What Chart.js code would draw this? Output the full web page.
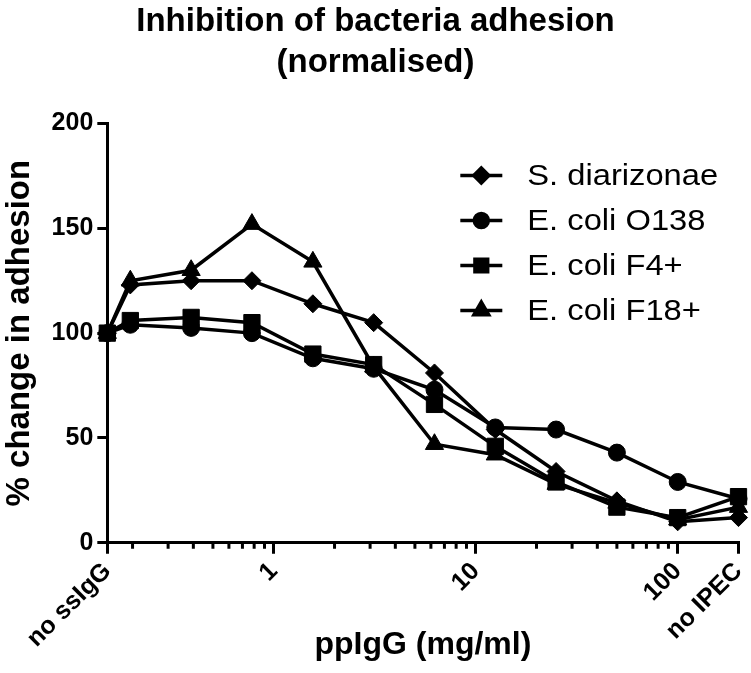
<!DOCTYPE html>
<html>
<head>
<meta charset="utf-8">
<title>Inhibition of bacteria adhesion</title>
<script src="https://cdn.jsdelivr.net/npm/chart.js@4.4.1/dist/chart.umd.min.js"></script>
<style>
  html, body { margin: 0; padding: 0; background: #fff; }
  #wrap { width: 751px; height: 673px; }
</style>
</head>
<body>
<div id="wrap"><canvas id="adhesion-chart"></canvas></div>
<script>
// ppIgG concentrations (mg/ml) - first point is "no ssIgG", last is "no IPEC"
const concentrations = [0.15, 0.195, 0.39, 0.78, 1.5625, 3.125, 6.25, 12.5, 25, 50, 100, 200];

const seriesNames = ['S. diarizonae', 'E. coli O138', 'E. coli F4+', 'E. coli F18+'];
const sDiarizonae = [100, 123, 125, 125, 114, 105, 81, 54, 34, 20, 10, 12];
const ecoliO138   = [100, 104, 102.5, 100, 88, 83, 73, 55, 54, 43, 29, 21];
const ecoliF4     = [100, 106, 107.5, 105, 90, 85, 66, 46, 29, 17, 12, 22];
const ecoliF18    = [100, 125, 130, 152, 134, 84, 47, 42, 28, 19, 11, 17];

const xTickValues = [0.15, 0.2, 0.3, 0.4, 0.5, 0.6, 0.7, 0.8, 0.9,
                     1, 2, 3, 4, 5, 6, 7, 8, 9,
                     10, 20, 30, 40, 50, 60, 70, 80, 90, 100, 200];
const xTickLabels = { 0.15: 'no ssIgG', 1: '1', 10: '10', 100: '100', 200: 'no IPEC' };
const yTicks = [0, 50, 100, 150, 200];

const FONT = "'Liberation Sans', Arial, sans-serif";

function makeSeries(values) {
    return values.map((v, i) => ({ x: concentrations[i], y: v }));
}

// minor ticks on the x axis are shorter than the labelled ones
const minorTicks = {
    id: 'minorTicks',
    afterDraw(chart) {
        const ctx = chart.ctx;
        const xs = chart.scales.x;
        const bottom = chart.chartArea.bottom;
        ctx.save();
        ctx.strokeStyle = '#000';
        ctx.lineWidth = 3;
        xTickValues.forEach(v => {
            if (xTickLabels[v] !== undefined) return;
            const px = xs.getPixelForValue(v);
            ctx.beginPath();
            ctx.moveTo(px, bottom);
            ctx.lineTo(px, bottom + 6);
            ctx.stroke();
        });
        ctx.restore();
    }
};

// legend drawn inside the plot, top right
const insideLegend = {
    id: 'insideLegend',
    afterDraw(chart) {
        const ctx = chart.ctx;
        const area = chart.chartArea;
        ctx.save();
        chart.data.datasets.forEach((ds, i) => {
            const x0 = area.left + 353;
            const y = area.top + 52 + i * 45;
            ctx.strokeStyle = '#000';
            ctx.fillStyle = '#000';
            ctx.lineWidth = 3.5;
            ctx.beginPath();
            ctx.moveTo(x0, y);
            ctx.lineTo(x0 + 42, y);
            ctx.stroke();
            Chart.helpers.drawPoint(ctx, {
                pointStyle: ds.pointStyle,
                radius: ds.legendRadius,
                borderWidth: 1,
                rotation: 0
            }, x0 + 21, y);
            ctx.save();
            ctx.translate(x0 + 67, y + 1);
            ctx.scale(1.09, 1);
            ctx.font = '30px ' + FONT;
            ctx.textBaseline = 'middle';
            ctx.textAlign = 'left';
            ctx.fillText(ds.label, 0, 0);
            ctx.restore();
        });
        ctx.restore();
    }
};

const styles = [
    { pointStyle: 'rectRot', pointRadius: 9, legendRadius: 7.5 },
    { pointStyle: 'circle', pointRadius: 8.5, legendRadius: 7 },
    { pointStyle: 'rect', pointRadius: 11.5, legendRadius: 9 },
    { pointStyle: 'triangle', pointRadius: 10.5, legendRadius: 8.5 }
];
const allValues = [sDiarizonae, ecoliO138, ecoliF4, ecoliF18];

const datasets = allValues.map((vals, i) => ({
    label: seriesNames[i],
    data: makeSeries(vals),
    borderColor: '#000',
    backgroundColor: '#000',
    pointBackgroundColor: '#000',
    pointBorderColor: '#000',
    pointBorderWidth: 1,
    borderWidth: 3.5,
    pointStyle: styles[i].pointStyle,
    pointRadius: styles[i].pointRadius,
    legendRadius: styles[i].legendRadius,
    tension: 0,
    clip: false
}));

const ctx = document.getElementById('adhesion-chart').getContext('2d');
new Chart(ctx, {
    type: 'line',
    data: { datasets: datasets },
    plugins: [minorTicks, insideLegend],
    options: {
        responsive: true,
        maintainAspectRatio: false,
        animation: false,
        layout: { padding: 0 },
        plugins: {
            legend: { display: false },
            tooltip: { enabled: false },
            title: {
                display: true,
                text: ['Inhibition of bacteria adhesion', '(normalised)'],
                color: '#000',
                font: { family: FONT, size: 33, weight: 'bold', lineHeight: 1.25 },
                padding: { top: 1, bottom: 40 }
            }
        },
        scales: {
            x: {
                type: 'logarithmic',
                min: 0.15,
                max: 200,
                afterBuildTicks: scale => {
                    scale.ticks = xTickValues.map(v => ({ value: v }));
                },
                // rotated labels end at their tick, so keep only a little room on the right
                afterFit: scale => {
                    scale.paddingRight = 11;
                },
                ticks: {
                    autoSkip: false,
                    minRotation: 45,
                    maxRotation: 45,
                    padding: 3,
                    color: '#000',
                    font: { family: FONT, size: 25, weight: 'bold' },
                    callback: value => xTickLabels[value] || ''
                },
                grid: {
                    drawOnChartArea: false,
                    tickLength: 11,
                    lineWidth: 3,
                    color: c => (c.tick && xTickLabels[c.tick.value] !== undefined) ? '#000' : 'rgba(0,0,0,0)'
                },
                border: { color: '#000', width: 3 },
                title: {
                    display: true,
                    text: 'ppIgG (mg/ml)',
                    color: '#000',
                    font: { family: FONT, size: 32, weight: 'bold', lineHeight: 1.2 },
                    padding: { top: -31, bottom: 9 }
                }
            },
            y: {
                min: 0,
                max: 200,
                afterBuildTicks: scale => {
                    scale.ticks = yTicks.map(v => ({ value: v }));
                },
                ticks: {
                    padding: 4,
                    color: '#000',
                    font: { family: FONT, size: 25, weight: 'bold' }
                },
                grid: {
                    drawOnChartArea: false,
                    tickLength: 10,
                    lineWidth: 3,
                    color: '#000'
                },
                border: { color: '#000', width: 3 },
                title: {
                    display: true,
                    text: '% change in adhesion',
                    color: '#000',
                    font: { family: FONT, size: 33, weight: 'bold', lineHeight: 1.2 },
                    padding: { top: 0, bottom: 8 }
                }
            }
        }
    }
});
</script>
</body>
</html>
